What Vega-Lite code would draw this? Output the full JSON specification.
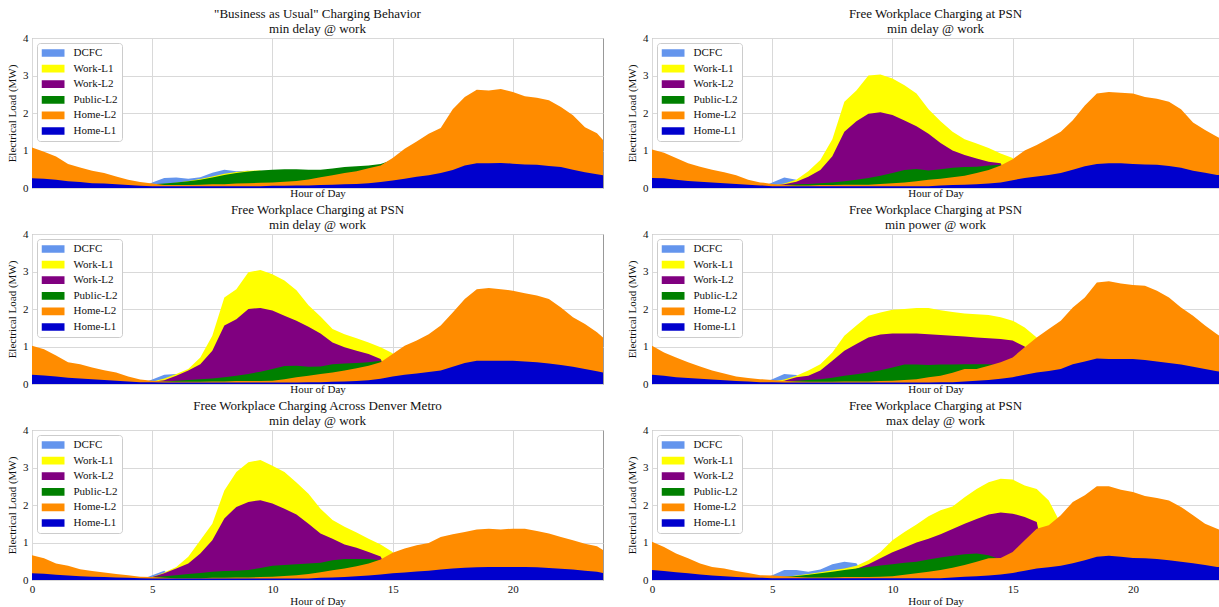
{
"$schema": "https://vega.github.io/schema/vega-lite/v6.json",
"background": "white",
"padding": {"left": 6, "top": 7, "right": 0, "bottom": 0},
"config": {
 "font": "Liberation Serif",
 "view": {"stroke": "#999999", "strokeWidth": 1},
 "title": {"font": "Liberation Serif", "fontSize": 13, "fontWeight": "normal", "color": "#111111", "lineHeight": 15, "offset": -4, "anchor": "middle"},
 "axis": {"labelFont": "Liberation Serif", "labelFontSize": 11, "labelColor": "#111111", "titleFont": "Liberation Serif", "titleFontSize": 11, "titleFontWeight": "normal", "titleColor": "#111111", "ticks": false, "domain": false, "gridColor": "#d9d9d9", "gridWidth": 1, "labelFlush": false, "labelOverlap": false, "labelPadding": 4},
 "legend": {"orient": "top-left", "offset": 5, "padding": 4.5, "fillColor": "white", "strokeColor": "#cccccc", "cornerRadius": 3, "symbolType": "M-1,-0.335L1,-0.335L1,0.335L-1,0.335Z", "symbolSize": 529, "symbolStrokeWidth": 0, "symbolOpacity": 1, "clipHeight": 11, "rowPadding": 3.6, "labelOffset": 9, "labelFont": "Liberation Serif", "labelFontSize": 11, "labelColor": "#111111", "labelLimit": 200}
},
"datasets": {"load": [
{"panel":1,"hour":0,"DCFC":0,"Work-L1":0,"Work-L2":0,"Public-L2":0,"Home-L2":1.08,"Home-L1":0.26},
{"panel":1,"hour":0.5,"DCFC":0,"Work-L1":0,"Work-L2":0,"Public-L2":0,"Home-L2":0.97,"Home-L1":0.25},
{"panel":1,"hour":1,"DCFC":0,"Work-L1":0,"Work-L2":0,"Public-L2":0,"Home-L2":0.84,"Home-L1":0.22},
{"panel":1,"hour":1.5,"DCFC":0,"Work-L1":0,"Work-L2":0,"Public-L2":0,"Home-L2":0.64,"Home-L1":0.18},
{"panel":1,"hour":2,"DCFC":0,"Work-L1":0,"Work-L2":0,"Public-L2":0,"Home-L2":0.55,"Home-L1":0.16},
{"panel":1,"hour":2.5,"DCFC":0,"Work-L1":0,"Work-L2":0,"Public-L2":0,"Home-L2":0.46,"Home-L1":0.13},
{"panel":1,"hour":3,"DCFC":0,"Work-L1":0,"Work-L2":0,"Public-L2":0,"Home-L2":0.40,"Home-L1":0.12},
{"panel":1,"hour":3.5,"DCFC":0,"Work-L1":0,"Work-L2":0,"Public-L2":0,"Home-L2":0.31,"Home-L1":0.10},
{"panel":1,"hour":4,"DCFC":0,"Work-L1":0,"Work-L2":0,"Public-L2":0,"Home-L2":0.22,"Home-L1":0.08},
{"panel":1,"hour":4.5,"DCFC":0,"Work-L1":0,"Work-L2":0,"Public-L2":0,"Home-L2":0.16,"Home-L1":0.06},
{"panel":1,"hour":5,"DCFC":0.15,"Work-L1":0.1,"Work-L2":0,"Public-L2":0.1,"Home-L2":0.12,"Home-L1":0.05},
{"panel":1,"hour":5.5,"DCFC":0.27,"Work-L1":0.11,"Work-L2":0,"Public-L2":0.12,"Home-L2":0.08,"Home-L1":0.05},
{"panel":1,"hour":6,"DCFC":0.28,"Work-L1":0.14,"Work-L2":0,"Public-L2":0.15,"Home-L2":0.08,"Home-L1":0.05},
{"panel":1,"hour":6.5,"DCFC":0.25,"Work-L1":0.19,"Work-L2":0,"Public-L2":0.18,"Home-L2":0.08,"Home-L1":0.05},
{"panel":1,"hour":7,"DCFC":0.29,"Work-L1":0.24,"Work-L2":0,"Public-L2":0.22,"Home-L2":0.09,"Home-L1":0.05},
{"panel":1,"hour":7.5,"DCFC":0.41,"Work-L1":0.31,"Work-L2":0,"Public-L2":0.28,"Home-L2":0.1,"Home-L1":0.05},
{"panel":1,"hour":8,"DCFC":0.49,"Work-L1":0.38,"Work-L2":0,"Public-L2":0.35,"Home-L2":0.1,"Home-L1":0.05},
{"panel":1,"hour":8.5,"DCFC":0.45,"Work-L1":0.43,"Work-L2":0,"Public-L2":0.4,"Home-L2":0.12,"Home-L1":0.05},
{"panel":1,"hour":9,"DCFC":0.46,"Work-L1":0.46,"Work-L2":0,"Public-L2":0.44,"Home-L2":0.13,"Home-L1":0.05},
{"panel":1,"hour":9.5,"DCFC":0,"Work-L1":0.47,"Work-L2":0,"Public-L2":0.47,"Home-L2":0.14,"Home-L1":0.05},
{"panel":1,"hour":10,"DCFC":0,"Work-L1":0,"Work-L2":0,"Public-L2":0.49,"Home-L2":0.15,"Home-L1":0.06},
{"panel":1,"hour":10.5,"DCFC":0,"Work-L1":0,"Work-L2":0,"Public-L2":0.5,"Home-L2":0.17,"Home-L1":0.06},
{"panel":1,"hour":11,"DCFC":0,"Work-L1":0,"Work-L2":0,"Public-L2":0.5,"Home-L2":0.19,"Home-L1":0.07},
{"panel":1,"hour":11.5,"DCFC":0,"Work-L1":0,"Work-L2":0,"Public-L2":0.49,"Home-L2":0.23,"Home-L1":0.07},
{"panel":1,"hour":12,"DCFC":0,"Work-L1":0,"Work-L2":0,"Public-L2":0.49,"Home-L2":0.29,"Home-L1":0.08},
{"panel":1,"hour":12.5,"DCFC":0,"Work-L1":0,"Work-L2":0,"Public-L2":0.52,"Home-L2":0.34,"Home-L1":0.09},
{"panel":1,"hour":13,"DCFC":0,"Work-L1":0,"Work-L2":0,"Public-L2":0.56,"Home-L2":0.4,"Home-L1":0.1},
{"panel":1,"hour":13.5,"DCFC":0,"Work-L1":0,"Work-L2":0,"Public-L2":0.58,"Home-L2":0.45,"Home-L1":0.11},
{"panel":1,"hour":14,"DCFC":0,"Work-L1":0,"Work-L2":0,"Public-L2":0.6,"Home-L2":0.53,"Home-L1":0.13},
{"panel":1,"hour":14.5,"DCFC":0,"Work-L1":0,"Work-L2":0,"Public-L2":0.64,"Home-L2":0.6,"Home-L1":0.16},
{"panel":1,"hour":15,"DCFC":0,"Work-L1":0,"Work-L2":0,"Public-L2":0.75,"Home-L2":0.8,"Home-L1":0.2},
{"panel":1,"hour":15.5,"DCFC":0,"Work-L1":0,"Work-L2":0,"Public-L2":0,"Home-L2":1.05,"Home-L1":0.25},
{"panel":1,"hour":16,"DCFC":0,"Work-L1":0,"Work-L2":0,"Public-L2":0,"Home-L2":1.24,"Home-L1":0.3},
{"panel":1,"hour":16.5,"DCFC":0,"Work-L1":0,"Work-L2":0,"Public-L2":0,"Home-L2":1.45,"Home-L1":0.34},
{"panel":1,"hour":17,"DCFC":0,"Work-L1":0,"Work-L2":0,"Public-L2":0,"Home-L2":1.6,"Home-L1":0.4},
{"panel":1,"hour":17.5,"DCFC":0,"Work-L1":0,"Work-L2":0,"Public-L2":0,"Home-L2":2.1,"Home-L1":0.48},
{"panel":1,"hour":18,"DCFC":0,"Work-L1":0,"Work-L2":0,"Public-L2":0,"Home-L2":2.43,"Home-L1":0.6},
{"panel":1,"hour":18.5,"DCFC":0,"Work-L1":0,"Work-L2":0,"Public-L2":0,"Home-L2":2.62,"Home-L1":0.66},
{"panel":1,"hour":19,"DCFC":0,"Work-L1":0,"Work-L2":0,"Public-L2":0,"Home-L2":2.6,"Home-L1":0.66},
{"panel":1,"hour":19.5,"DCFC":0,"Work-L1":0,"Work-L2":0,"Public-L2":0,"Home-L2":2.64,"Home-L1":0.67},
{"panel":1,"hour":20,"DCFC":0,"Work-L1":0,"Work-L2":0,"Public-L2":0,"Home-L2":2.56,"Home-L1":0.65},
{"panel":1,"hour":20.5,"DCFC":0,"Work-L1":0,"Work-L2":0,"Public-L2":0,"Home-L2":2.45,"Home-L1":0.63},
{"panel":1,"hour":21,"DCFC":0,"Work-L1":0,"Work-L2":0,"Public-L2":0,"Home-L2":2.41,"Home-L1":0.62},
{"panel":1,"hour":21.5,"DCFC":0,"Work-L1":0,"Work-L2":0,"Public-L2":0,"Home-L2":2.34,"Home-L1":0.59},
{"panel":1,"hour":22,"DCFC":0,"Work-L1":0,"Work-L2":0,"Public-L2":0,"Home-L2":2.16,"Home-L1":0.56},
{"panel":1,"hour":22.5,"DCFC":0,"Work-L1":0,"Work-L2":0,"Public-L2":0,"Home-L2":1.94,"Home-L1":0.49},
{"panel":1,"hour":23,"DCFC":0,"Work-L1":0,"Work-L2":0,"Public-L2":0,"Home-L2":1.62,"Home-L1":0.42},
{"panel":1,"hour":23.5,"DCFC":0,"Work-L1":0,"Work-L2":0,"Public-L2":0,"Home-L2":1.46,"Home-L1":0.37},
{"panel":1,"hour":23.75,"DCFC":0,"Work-L1":0,"Work-L2":0,"Public-L2":0,"Home-L2":1.28,"Home-L1":0.34},
{"panel":2,"hour":0,"DCFC":0,"Work-L1":0,"Work-L2":0,"Public-L2":0,"Home-L2":1.03,"Home-L1":0.27},
{"panel":2,"hour":0.5,"DCFC":0,"Work-L1":0,"Work-L2":0,"Public-L2":0,"Home-L2":0.94,"Home-L1":0.26},
{"panel":2,"hour":1,"DCFC":0,"Work-L1":0,"Work-L2":0,"Public-L2":0,"Home-L2":0.8,"Home-L1":0.22},
{"panel":2,"hour":1.5,"DCFC":0,"Work-L1":0,"Work-L2":0,"Public-L2":0,"Home-L2":0.66,"Home-L1":0.19},
{"panel":2,"hour":2,"DCFC":0,"Work-L1":0,"Work-L2":0,"Public-L2":0,"Home-L2":0.57,"Home-L1":0.17},
{"panel":2,"hour":2.5,"DCFC":0,"Work-L1":0,"Work-L2":0,"Public-L2":0,"Home-L2":0.49,"Home-L1":0.15},
{"panel":2,"hour":3,"DCFC":0,"Work-L1":0,"Work-L2":0,"Public-L2":0,"Home-L2":0.42,"Home-L1":0.13},
{"panel":2,"hour":3.5,"DCFC":0,"Work-L1":0,"Work-L2":0,"Public-L2":0,"Home-L2":0.34,"Home-L1":0.11},
{"panel":2,"hour":4,"DCFC":0,"Work-L1":0,"Work-L2":0,"Public-L2":0,"Home-L2":0.22,"Home-L1":0.09},
{"panel":2,"hour":4.5,"DCFC":0,"Work-L1":0,"Work-L2":0,"Public-L2":0,"Home-L2":0.15,"Home-L1":0.07},
{"panel":2,"hour":5,"DCFC":0.15,"Work-L1":0.07,"Work-L2":0.07,"Public-L2":0.06,"Home-L2":0.11,"Home-L1":0.05},
{"panel":2,"hour":5.5,"DCFC":0.28,"Work-L1":0.12,"Work-L2":0.1,"Public-L2":0.08,"Home-L2":0.08,"Home-L1":0.05},
{"panel":2,"hour":6,"DCFC":0.22,"Work-L1":0.22,"Work-L2":0.17,"Public-L2":0.1,"Home-L2":0.07,"Home-L1":0.05},
{"panel":2,"hour":6.5,"DCFC":0,"Work-L1":0.45,"Work-L2":0.3,"Public-L2":0.11,"Home-L2":0.07,"Home-L1":0.05},
{"panel":2,"hour":7,"DCFC":0,"Work-L1":0.75,"Work-L2":0.48,"Public-L2":0.13,"Home-L2":0.08,"Home-L1":0.05},
{"panel":2,"hour":7.5,"DCFC":0,"Work-L1":1.3,"Work-L2":0.85,"Public-L2":0.15,"Home-L2":0.08,"Home-L1":0.05},
{"panel":2,"hour":8,"DCFC":0,"Work-L1":2.3,"Work-L2":1.5,"Public-L2":0.18,"Home-L2":0.09,"Home-L1":0.05},
{"panel":2,"hour":8.5,"DCFC":0,"Work-L1":2.6,"Work-L2":1.78,"Public-L2":0.22,"Home-L2":0.09,"Home-L1":0.05},
{"panel":2,"hour":9,"DCFC":0,"Work-L1":3.0,"Work-L2":1.98,"Public-L2":0.27,"Home-L2":0.09,"Home-L1":0.05},
{"panel":2,"hour":9.5,"DCFC":0,"Work-L1":3.03,"Work-L2":2.02,"Public-L2":0.33,"Home-L2":0.11,"Home-L1":0.05},
{"panel":2,"hour":10,"DCFC":0,"Work-L1":2.92,"Work-L2":1.95,"Public-L2":0.4,"Home-L2":0.13,"Home-L1":0.05},
{"panel":2,"hour":10.5,"DCFC":0,"Work-L1":2.74,"Work-L2":1.8,"Public-L2":0.48,"Home-L2":0.15,"Home-L1":0.05},
{"panel":2,"hour":11,"DCFC":0,"Work-L1":2.52,"Work-L2":1.65,"Public-L2":0.51,"Home-L2":0.18,"Home-L1":0.05},
{"panel":2,"hour":11.5,"DCFC":0,"Work-L1":2.1,"Work-L2":1.45,"Public-L2":0.47,"Home-L2":0.22,"Home-L1":0.05},
{"panel":2,"hour":12,"DCFC":0,"Work-L1":1.78,"Work-L2":1.2,"Public-L2":0.5,"Home-L2":0.25,"Home-L1":0.07},
{"panel":2,"hour":12.5,"DCFC":0,"Work-L1":1.5,"Work-L2":1.0,"Public-L2":0.54,"Home-L2":0.29,"Home-L1":0.08},
{"panel":2,"hour":13,"DCFC":0,"Work-L1":1.3,"Work-L2":0.88,"Public-L2":0.56,"Home-L2":0.33,"Home-L1":0.09},
{"panel":2,"hour":13.5,"DCFC":0,"Work-L1":1.19,"Work-L2":0.79,"Public-L2":0.57,"Home-L2":0.4,"Home-L1":0.1},
{"panel":2,"hour":14,"DCFC":0,"Work-L1":1.07,"Work-L2":0.7,"Public-L2":0.6,"Home-L2":0.48,"Home-L1":0.12},
{"panel":2,"hour":14.5,"DCFC":0,"Work-L1":0.92,"Work-L2":0.66,"Public-L2":0.62,"Home-L2":0.6,"Home-L1":0.15},
{"panel":2,"hour":15,"DCFC":0,"Work-L1":0.8,"Work-L2":0,"Public-L2":0,"Home-L2":0.77,"Home-L1":0.21},
{"panel":2,"hour":15.5,"DCFC":0,"Work-L1":0,"Work-L2":0,"Public-L2":0,"Home-L2":1.0,"Home-L1":0.27},
{"panel":2,"hour":16,"DCFC":0,"Work-L1":0,"Work-L2":0,"Public-L2":0,"Home-L2":1.15,"Home-L1":0.31},
{"panel":2,"hour":16.5,"DCFC":0,"Work-L1":0,"Work-L2":0,"Public-L2":0,"Home-L2":1.32,"Home-L1":0.35},
{"panel":2,"hour":17,"DCFC":0,"Work-L1":0,"Work-L2":0,"Public-L2":0,"Home-L2":1.5,"Home-L1":0.4},
{"panel":2,"hour":17.5,"DCFC":0,"Work-L1":0,"Work-L2":0,"Public-L2":0,"Home-L2":1.81,"Home-L1":0.49},
{"panel":2,"hour":18,"DCFC":0,"Work-L1":0,"Work-L2":0,"Public-L2":0,"Home-L2":2.2,"Home-L1":0.58},
{"panel":2,"hour":18.5,"DCFC":0,"Work-L1":0,"Work-L2":0,"Public-L2":0,"Home-L2":2.52,"Home-L1":0.64},
{"panel":2,"hour":19,"DCFC":0,"Work-L1":0,"Work-L2":0,"Public-L2":0,"Home-L2":2.56,"Home-L1":0.66},
{"panel":2,"hour":19.5,"DCFC":0,"Work-L1":0,"Work-L2":0,"Public-L2":0,"Home-L2":2.54,"Home-L1":0.66},
{"panel":2,"hour":20,"DCFC":0,"Work-L1":0,"Work-L2":0,"Public-L2":0,"Home-L2":2.52,"Home-L1":0.64},
{"panel":2,"hour":20.5,"DCFC":0,"Work-L1":0,"Work-L2":0,"Public-L2":0,"Home-L2":2.43,"Home-L1":0.63},
{"panel":2,"hour":21,"DCFC":0,"Work-L1":0,"Work-L2":0,"Public-L2":0,"Home-L2":2.38,"Home-L1":0.62},
{"panel":2,"hour":21.5,"DCFC":0,"Work-L1":0,"Work-L2":0,"Public-L2":0,"Home-L2":2.3,"Home-L1":0.59},
{"panel":2,"hour":22,"DCFC":0,"Work-L1":0,"Work-L2":0,"Public-L2":0,"Home-L2":2.1,"Home-L1":0.54},
{"panel":2,"hour":22.5,"DCFC":0,"Work-L1":0,"Work-L2":0,"Public-L2":0,"Home-L2":1.75,"Home-L1":0.46},
{"panel":2,"hour":23,"DCFC":0,"Work-L1":0,"Work-L2":0,"Public-L2":0,"Home-L2":1.55,"Home-L1":0.41},
{"panel":2,"hour":23.5,"DCFC":0,"Work-L1":0,"Work-L2":0,"Public-L2":0,"Home-L2":1.37,"Home-L1":0.35},
{"panel":2,"hour":23.75,"DCFC":0,"Work-L1":0,"Work-L2":0,"Public-L2":0,"Home-L2":1.28,"Home-L1":0.33},
{"panel":3,"hour":0,"DCFC":0,"Work-L1":0,"Work-L2":0,"Public-L2":0,"Home-L2":1.02,"Home-L1":0.25},
{"panel":3,"hour":0.5,"DCFC":0,"Work-L1":0,"Work-L2":0,"Public-L2":0,"Home-L2":0.93,"Home-L1":0.23},
{"panel":3,"hour":1,"DCFC":0,"Work-L1":0,"Work-L2":0,"Public-L2":0,"Home-L2":0.76,"Home-L1":0.2},
{"panel":3,"hour":1.5,"DCFC":0,"Work-L1":0,"Work-L2":0,"Public-L2":0,"Home-L2":0.58,"Home-L1":0.17},
{"panel":3,"hour":2,"DCFC":0,"Work-L1":0,"Work-L2":0,"Public-L2":0,"Home-L2":0.53,"Home-L1":0.15},
{"panel":3,"hour":2.5,"DCFC":0,"Work-L1":0,"Work-L2":0,"Public-L2":0,"Home-L2":0.44,"Home-L1":0.13},
{"panel":3,"hour":3,"DCFC":0,"Work-L1":0,"Work-L2":0,"Public-L2":0,"Home-L2":0.37,"Home-L1":0.11},
{"panel":3,"hour":3.5,"DCFC":0,"Work-L1":0,"Work-L2":0,"Public-L2":0,"Home-L2":0.31,"Home-L1":0.09},
{"panel":3,"hour":4,"DCFC":0,"Work-L1":0,"Work-L2":0,"Public-L2":0,"Home-L2":0.2,"Home-L1":0.07},
{"panel":3,"hour":4.5,"DCFC":0,"Work-L1":0,"Work-L2":0,"Public-L2":0,"Home-L2":0.12,"Home-L1":0.05},
{"panel":3,"hour":5,"DCFC":0.12,"Work-L1":0.06,"Work-L2":0.06,"Public-L2":0.05,"Home-L2":0.09,"Home-L1":0.05},
{"panel":3,"hour":5.5,"DCFC":0.25,"Work-L1":0.15,"Work-L2":0.1,"Public-L2":0.07,"Home-L2":0.07,"Home-L1":0.04},
{"panel":3,"hour":6,"DCFC":0.27,"Work-L1":0.27,"Work-L2":0.22,"Public-L2":0.09,"Home-L2":0.06,"Home-L1":0.04},
{"panel":3,"hour":6.5,"DCFC":0,"Work-L1":0.4,"Work-L2":0.36,"Public-L2":0.11,"Home-L2":0.06,"Home-L1":0.04},
{"panel":3,"hour":7,"DCFC":0,"Work-L1":0.71,"Work-L2":0.53,"Public-L2":0.13,"Home-L2":0.06,"Home-L1":0.04},
{"panel":3,"hour":7.5,"DCFC":0,"Work-L1":1.29,"Work-L2":0.89,"Public-L2":0.15,"Home-L2":0.07,"Home-L1":0.04},
{"panel":3,"hour":8,"DCFC":0,"Work-L1":2.31,"Work-L2":1.56,"Public-L2":0.18,"Home-L2":0.07,"Home-L1":0.04},
{"panel":3,"hour":8.5,"DCFC":0,"Work-L1":2.53,"Work-L2":1.73,"Public-L2":0.22,"Home-L2":0.08,"Home-L1":0.04},
{"panel":3,"hour":9,"DCFC":0,"Work-L1":2.98,"Work-L2":2.0,"Public-L2":0.27,"Home-L2":0.08,"Home-L1":0.04},
{"panel":3,"hour":9.5,"DCFC":0,"Work-L1":3.04,"Work-L2":2.03,"Public-L2":0.33,"Home-L2":0.08,"Home-L1":0.04},
{"panel":3,"hour":10,"DCFC":0,"Work-L1":2.93,"Work-L2":1.96,"Public-L2":0.4,"Home-L2":0.09,"Home-L1":0.04},
{"panel":3,"hour":10.5,"DCFC":0,"Work-L1":2.76,"Work-L2":1.82,"Public-L2":0.48,"Home-L2":0.13,"Home-L1":0.04},
{"panel":3,"hour":11,"DCFC":0,"Work-L1":2.5,"Work-L2":1.69,"Public-L2":0.49,"Home-L2":0.18,"Home-L1":0.04},
{"panel":3,"hour":11.5,"DCFC":0,"Work-L1":2.1,"Work-L2":1.53,"Public-L2":0.46,"Home-L2":0.22,"Home-L1":0.05},
{"panel":3,"hour":12,"DCFC":0,"Work-L1":1.8,"Work-L2":1.35,"Public-L2":0.47,"Home-L2":0.27,"Home-L1":0.05},
{"panel":3,"hour":12.5,"DCFC":0,"Work-L1":1.47,"Work-L2":1.11,"Public-L2":0.53,"Home-L2":0.31,"Home-L1":0.06},
{"panel":3,"hour":13,"DCFC":0,"Work-L1":1.33,"Work-L2":0.98,"Public-L2":0.55,"Home-L2":0.36,"Home-L1":0.07},
{"panel":3,"hour":13.5,"DCFC":0,"Work-L1":1.22,"Work-L2":0.89,"Public-L2":0.56,"Home-L2":0.42,"Home-L1":0.08},
{"panel":3,"hour":14,"DCFC":0,"Work-L1":1.11,"Work-L2":0.8,"Public-L2":0.58,"Home-L2":0.49,"Home-L1":0.1},
{"panel":3,"hour":14.5,"DCFC":0,"Work-L1":0.98,"Work-L2":0.67,"Public-L2":0.62,"Home-L2":0.58,"Home-L1":0.14},
{"panel":3,"hour":15,"DCFC":0,"Work-L1":0.82,"Work-L2":0,"Public-L2":0,"Home-L2":0.8,"Home-L1":0.2},
{"panel":3,"hour":15.5,"DCFC":0,"Work-L1":0,"Work-L2":0,"Public-L2":0,"Home-L2":1.02,"Home-L1":0.25},
{"panel":3,"hour":16,"DCFC":0,"Work-L1":0,"Work-L2":0,"Public-L2":0,"Home-L2":1.16,"Home-L1":0.28},
{"panel":3,"hour":16.5,"DCFC":0,"Work-L1":0,"Work-L2":0,"Public-L2":0,"Home-L2":1.33,"Home-L1":0.32},
{"panel":3,"hour":17,"DCFC":0,"Work-L1":0,"Work-L2":0,"Public-L2":0,"Home-L2":1.56,"Home-L1":0.36},
{"panel":3,"hour":17.5,"DCFC":0,"Work-L1":0,"Work-L2":0,"Public-L2":0,"Home-L2":1.91,"Home-L1":0.46},
{"panel":3,"hour":18,"DCFC":0,"Work-L1":0,"Work-L2":0,"Public-L2":0,"Home-L2":2.27,"Home-L1":0.56},
{"panel":3,"hour":18.5,"DCFC":0,"Work-L1":0,"Work-L2":0,"Public-L2":0,"Home-L2":2.53,"Home-L1":0.62},
{"panel":3,"hour":19,"DCFC":0,"Work-L1":0,"Work-L2":0,"Public-L2":0,"Home-L2":2.56,"Home-L1":0.62},
{"panel":3,"hour":19.5,"DCFC":0,"Work-L1":0,"Work-L2":0,"Public-L2":0,"Home-L2":2.53,"Home-L1":0.62},
{"panel":3,"hour":20,"DCFC":0,"Work-L1":0,"Work-L2":0,"Public-L2":0,"Home-L2":2.49,"Home-L1":0.62},
{"panel":3,"hour":20.5,"DCFC":0,"Work-L1":0,"Work-L2":0,"Public-L2":0,"Home-L2":2.42,"Home-L1":0.6},
{"panel":3,"hour":21,"DCFC":0,"Work-L1":0,"Work-L2":0,"Public-L2":0,"Home-L2":2.36,"Home-L1":0.58},
{"panel":3,"hour":21.5,"DCFC":0,"Work-L1":0,"Work-L2":0,"Public-L2":0,"Home-L2":2.27,"Home-L1":0.55},
{"panel":3,"hour":22,"DCFC":0,"Work-L1":0,"Work-L2":0,"Public-L2":0,"Home-L2":2.04,"Home-L1":0.51},
{"panel":3,"hour":22.5,"DCFC":0,"Work-L1":0,"Work-L2":0,"Public-L2":0,"Home-L2":1.78,"Home-L1":0.46},
{"panel":3,"hour":23,"DCFC":0,"Work-L1":0,"Work-L2":0,"Public-L2":0,"Home-L2":1.6,"Home-L1":0.4},
{"panel":3,"hour":23.5,"DCFC":0,"Work-L1":0,"Work-L2":0,"Public-L2":0,"Home-L2":1.38,"Home-L1":0.34},
{"panel":3,"hour":23.75,"DCFC":0,"Work-L1":0,"Work-L2":0,"Public-L2":0,"Home-L2":1.24,"Home-L1":0.31},
{"panel":4,"hour":0,"DCFC":0,"Work-L1":0,"Work-L2":0,"Public-L2":0,"Home-L2":1.02,"Home-L1":0.25},
{"panel":4,"hour":0.5,"DCFC":0,"Work-L1":0,"Work-L2":0,"Public-L2":0,"Home-L2":0.84,"Home-L1":0.22},
{"panel":4,"hour":1,"DCFC":0,"Work-L1":0,"Work-L2":0,"Public-L2":0,"Home-L2":0.71,"Home-L1":0.18},
{"panel":4,"hour":1.5,"DCFC":0,"Work-L1":0,"Work-L2":0,"Public-L2":0,"Home-L2":0.58,"Home-L1":0.16},
{"panel":4,"hour":2,"DCFC":0,"Work-L1":0,"Work-L2":0,"Public-L2":0,"Home-L2":0.47,"Home-L1":0.14},
{"panel":4,"hour":2.5,"DCFC":0,"Work-L1":0,"Work-L2":0,"Public-L2":0,"Home-L2":0.36,"Home-L1":0.12},
{"panel":4,"hour":3,"DCFC":0,"Work-L1":0,"Work-L2":0,"Public-L2":0,"Home-L2":0.28,"Home-L1":0.1},
{"panel":4,"hour":3.5,"DCFC":0,"Work-L1":0,"Work-L2":0,"Public-L2":0,"Home-L2":0.2,"Home-L1":0.08},
{"panel":4,"hour":4,"DCFC":0,"Work-L1":0,"Work-L2":0,"Public-L2":0,"Home-L2":0.16,"Home-L1":0.07},
{"panel":4,"hour":4.5,"DCFC":0,"Work-L1":0,"Work-L2":0,"Public-L2":0,"Home-L2":0.13,"Home-L1":0.05},
{"panel":4,"hour":5,"DCFC":0.13,"Work-L1":0.07,"Work-L2":0.05,"Public-L2":0.05,"Home-L2":0.11,"Home-L1":0.05},
{"panel":4,"hour":5.5,"DCFC":0.27,"Work-L1":0.12,"Work-L2":0.09,"Public-L2":0.07,"Home-L2":0.08,"Home-L1":0.04},
{"panel":4,"hour":6,"DCFC":0.24,"Work-L1":0.22,"Work-L2":0.18,"Public-L2":0.09,"Home-L2":0.07,"Home-L1":0.04},
{"panel":4,"hour":6.5,"DCFC":0,"Work-L1":0.36,"Work-L2":0.22,"Public-L2":0.11,"Home-L2":0.06,"Home-L1":0.04},
{"panel":4,"hour":7,"DCFC":0,"Work-L1":0.53,"Work-L2":0.36,"Public-L2":0.13,"Home-L2":0.06,"Home-L1":0.04},
{"panel":4,"hour":7.5,"DCFC":0,"Work-L1":0.84,"Work-L2":0.62,"Public-L2":0.17,"Home-L2":0.06,"Home-L1":0.04},
{"panel":4,"hour":8,"DCFC":0,"Work-L1":1.29,"Work-L2":0.89,"Public-L2":0.22,"Home-L2":0.07,"Home-L1":0.04},
{"panel":4,"hour":8.5,"DCFC":0,"Work-L1":1.56,"Work-L2":1.07,"Public-L2":0.26,"Home-L2":0.07,"Home-L1":0.04},
{"panel":4,"hour":9,"DCFC":0,"Work-L1":1.82,"Work-L2":1.24,"Public-L2":0.31,"Home-L2":0.07,"Home-L1":0.04},
{"panel":4,"hour":9.5,"DCFC":0,"Work-L1":1.91,"Work-L2":1.32,"Public-L2":0.37,"Home-L2":0.08,"Home-L1":0.04},
{"panel":4,"hour":10,"DCFC":0,"Work-L1":1.98,"Work-L2":1.35,"Public-L2":0.44,"Home-L2":0.09,"Home-L1":0.04},
{"panel":4,"hour":10.5,"DCFC":0,"Work-L1":2.0,"Work-L2":1.35,"Public-L2":0.52,"Home-L2":0.11,"Home-L1":0.04},
{"panel":4,"hour":11,"DCFC":0,"Work-L1":2.03,"Work-L2":1.35,"Public-L2":0.52,"Home-L2":0.13,"Home-L1":0.04},
{"panel":4,"hour":11.5,"DCFC":0,"Work-L1":2.03,"Work-L2":1.33,"Public-L2":0.51,"Home-L2":0.18,"Home-L1":0.04},
{"panel":4,"hour":12,"DCFC":0,"Work-L1":1.97,"Work-L2":1.31,"Public-L2":0.52,"Home-L2":0.22,"Home-L1":0.05},
{"panel":4,"hour":12.5,"DCFC":0,"Work-L1":1.92,"Work-L2":1.29,"Public-L2":0.52,"Home-L2":0.3,"Home-L1":0.05},
{"panel":4,"hour":13,"DCFC":0,"Work-L1":1.88,"Work-L2":1.27,"Public-L2":0.53,"Home-L2":0.4,"Home-L1":0.07},
{"panel":4,"hour":13.5,"DCFC":0,"Work-L1":1.86,"Work-L2":1.24,"Public-L2":0.53,"Home-L2":0.4,"Home-L1":0.09},
{"panel":4,"hour":14,"DCFC":0,"Work-L1":1.84,"Work-L2":1.22,"Public-L2":0.53,"Home-L2":0.49,"Home-L1":0.11},
{"panel":4,"hour":14.5,"DCFC":0,"Work-L1":1.78,"Work-L2":1.2,"Public-L2":0.5,"Home-L2":0.58,"Home-L1":0.14},
{"panel":4,"hour":15,"DCFC":0,"Work-L1":1.69,"Work-L2":1.16,"Public-L2":0,"Home-L2":0.71,"Home-L1":0.18},
{"panel":4,"hour":15.5,"DCFC":0,"Work-L1":1.51,"Work-L2":1.0,"Public-L2":0,"Home-L2":0.98,"Home-L1":0.25},
{"panel":4,"hour":16,"DCFC":0,"Work-L1":1.24,"Work-L2":0,"Public-L2":0,"Home-L2":1.24,"Home-L1":0.31},
{"panel":4,"hour":16.5,"DCFC":0,"Work-L1":0,"Work-L2":0,"Public-L2":0,"Home-L2":1.47,"Home-L1":0.35},
{"panel":4,"hour":17,"DCFC":0,"Work-L1":0,"Work-L2":0,"Public-L2":0,"Home-L2":1.69,"Home-L1":0.4},
{"panel":4,"hour":17.5,"DCFC":0,"Work-L1":0,"Work-L2":0,"Public-L2":0,"Home-L2":2.04,"Home-L1":0.53},
{"panel":4,"hour":18,"DCFC":0,"Work-L1":0,"Work-L2":0,"Public-L2":0,"Home-L2":2.31,"Home-L1":0.6},
{"panel":4,"hour":18.5,"DCFC":0,"Work-L1":0,"Work-L2":0,"Public-L2":0,"Home-L2":2.71,"Home-L1":0.68},
{"panel":4,"hour":19,"DCFC":0,"Work-L1":0,"Work-L2":0,"Public-L2":0,"Home-L2":2.74,"Home-L1":0.67},
{"panel":4,"hour":19.5,"DCFC":0,"Work-L1":0,"Work-L2":0,"Public-L2":0,"Home-L2":2.68,"Home-L1":0.67},
{"panel":4,"hour":20,"DCFC":0,"Work-L1":0,"Work-L2":0,"Public-L2":0,"Home-L2":2.64,"Home-L1":0.67},
{"panel":4,"hour":20.5,"DCFC":0,"Work-L1":0,"Work-L2":0,"Public-L2":0,"Home-L2":2.62,"Home-L1":0.64},
{"panel":4,"hour":21,"DCFC":0,"Work-L1":0,"Work-L2":0,"Public-L2":0,"Home-L2":2.49,"Home-L1":0.6},
{"panel":4,"hour":21.5,"DCFC":0,"Work-L1":0,"Work-L2":0,"Public-L2":0,"Home-L2":2.31,"Home-L1":0.56},
{"panel":4,"hour":22,"DCFC":0,"Work-L1":0,"Work-L2":0,"Public-L2":0,"Home-L2":2.04,"Home-L1":0.52},
{"panel":4,"hour":22.5,"DCFC":0,"Work-L1":0,"Work-L2":0,"Public-L2":0,"Home-L2":1.82,"Home-L1":0.46},
{"panel":4,"hour":23,"DCFC":0,"Work-L1":0,"Work-L2":0,"Public-L2":0,"Home-L2":1.56,"Home-L1":0.4},
{"panel":4,"hour":23.5,"DCFC":0,"Work-L1":0,"Work-L2":0,"Public-L2":0,"Home-L2":1.33,"Home-L1":0.34},
{"panel":4,"hour":23.75,"DCFC":0,"Work-L1":0,"Work-L2":0,"Public-L2":0,"Home-L2":1.22,"Home-L1":0.31},
{"panel":5,"hour":0,"DCFC":0,"Work-L1":0,"Work-L2":0,"Public-L2":0,"Home-L2":0.66,"Home-L1":0.18},
{"panel":5,"hour":0.5,"DCFC":0,"Work-L1":0,"Work-L2":0,"Public-L2":0,"Home-L2":0.58,"Home-L1":0.17},
{"panel":5,"hour":1,"DCFC":0,"Work-L1":0,"Work-L2":0,"Public-L2":0,"Home-L2":0.44,"Home-L1":0.14},
{"panel":5,"hour":1.5,"DCFC":0,"Work-L1":0,"Work-L2":0,"Public-L2":0,"Home-L2":0.38,"Home-L1":0.12},
{"panel":5,"hour":2,"DCFC":0,"Work-L1":0,"Work-L2":0,"Public-L2":0,"Home-L2":0.29,"Home-L1":0.1},
{"panel":5,"hour":2.5,"DCFC":0,"Work-L1":0,"Work-L2":0,"Public-L2":0,"Home-L2":0.24,"Home-L1":0.09},
{"panel":5,"hour":3,"DCFC":0,"Work-L1":0,"Work-L2":0,"Public-L2":0,"Home-L2":0.2,"Home-L1":0.08},
{"panel":5,"hour":3.5,"DCFC":0,"Work-L1":0,"Work-L2":0,"Public-L2":0,"Home-L2":0.16,"Home-L1":0.07},
{"panel":5,"hour":4,"DCFC":0,"Work-L1":0,"Work-L2":0,"Public-L2":0,"Home-L2":0.13,"Home-L1":0.06},
{"panel":5,"hour":4.5,"DCFC":0,"Work-L1":0,"Work-L2":0,"Public-L2":0.05,"Home-L2":0.09,"Home-L1":0.05},
{"panel":5,"hour":5,"DCFC":0.13,"Work-L1":0.08,"Work-L2":0.08,"Public-L2":0.08,"Home-L2":0.08,"Home-L1":0.04},
{"panel":5,"hour":5.5,"DCFC":0.25,"Work-L1":0.2,"Work-L2":0.18,"Public-L2":0.1,"Home-L2":0.06,"Home-L1":0.04},
{"panel":5,"hour":6,"DCFC":0,"Work-L1":0.35,"Work-L2":0.31,"Public-L2":0.13,"Home-L2":0.05,"Home-L1":0.04},
{"panel":5,"hour":6.5,"DCFC":0,"Work-L1":0.62,"Work-L2":0.44,"Public-L2":0.16,"Home-L2":0.05,"Home-L1":0.04},
{"panel":5,"hour":7,"DCFC":0,"Work-L1":1.06,"Work-L2":0.71,"Public-L2":0.19,"Home-L2":0.05,"Home-L1":0.04},
{"panel":5,"hour":7.5,"DCFC":0,"Work-L1":1.5,"Work-L2":1.06,"Public-L2":0.22,"Home-L2":0.06,"Home-L1":0.04},
{"panel":5,"hour":8,"DCFC":0,"Work-L1":2.39,"Work-L2":1.64,"Public-L2":0.24,"Home-L2":0.06,"Home-L1":0.04},
{"panel":5,"hour":8.5,"DCFC":0,"Work-L1":2.88,"Work-L2":1.95,"Public-L2":0.25,"Home-L2":0.07,"Home-L1":0.04},
{"panel":5,"hour":9,"DCFC":0,"Work-L1":3.14,"Work-L2":2.08,"Public-L2":0.27,"Home-L2":0.07,"Home-L1":0.04},
{"panel":5,"hour":9.5,"DCFC":0,"Work-L1":3.2,"Work-L2":2.13,"Public-L2":0.32,"Home-L2":0.08,"Home-L1":0.04},
{"panel":5,"hour":10,"DCFC":0,"Work-L1":3.05,"Work-L2":2.04,"Public-L2":0.38,"Home-L2":0.09,"Home-L1":0.04},
{"panel":5,"hour":10.5,"DCFC":0,"Work-L1":2.88,"Work-L2":1.9,"Public-L2":0.4,"Home-L2":0.11,"Home-L1":0.04},
{"panel":5,"hour":11,"DCFC":0,"Work-L1":2.6,"Work-L2":1.75,"Public-L2":0.42,"Home-L2":0.13,"Home-L1":0.04},
{"panel":5,"hour":11.5,"DCFC":0,"Work-L1":2.3,"Work-L2":1.5,"Public-L2":0.44,"Home-L2":0.16,"Home-L1":0.04},
{"panel":5,"hour":12,"DCFC":0,"Work-L1":1.9,"Work-L2":1.24,"Public-L2":0.46,"Home-L2":0.21,"Home-L1":0.06},
{"panel":5,"hour":12.5,"DCFC":0,"Work-L1":1.6,"Work-L2":1.1,"Public-L2":0.53,"Home-L2":0.26,"Home-L1":0.07},
{"panel":5,"hour":13,"DCFC":0,"Work-L1":1.42,"Work-L2":0.95,"Public-L2":0.56,"Home-L2":0.31,"Home-L1":0.08},
{"panel":5,"hour":13.5,"DCFC":0,"Work-L1":1.27,"Work-L2":0.86,"Public-L2":0.56,"Home-L2":0.37,"Home-L1":0.1},
{"panel":5,"hour":14,"DCFC":0,"Work-L1":1.1,"Work-L2":0.75,"Public-L2":0.56,"Home-L2":0.44,"Home-L1":0.12},
{"panel":5,"hour":14.5,"DCFC":0,"Work-L1":0.95,"Work-L2":0.63,"Public-L2":0.53,"Home-L2":0.55,"Home-L1":0.15},
{"panel":5,"hour":15,"DCFC":0,"Work-L1":0.75,"Work-L2":0,"Public-L2":0,"Home-L2":0.73,"Home-L1":0.18},
{"panel":5,"hour":15.5,"DCFC":0,"Work-L1":0,"Work-L2":0,"Public-L2":0,"Home-L2":0.84,"Home-L1":0.2},
{"panel":5,"hour":16,"DCFC":0,"Work-L1":0,"Work-L2":0,"Public-L2":0,"Home-L2":0.93,"Home-L1":0.23},
{"panel":5,"hour":16.5,"DCFC":0,"Work-L1":0,"Work-L2":0,"Public-L2":0,"Home-L2":0.99,"Home-L1":0.25},
{"panel":5,"hour":17,"DCFC":0,"Work-L1":0,"Work-L2":0,"Public-L2":0,"Home-L2":1.15,"Home-L1":0.28},
{"panel":5,"hour":17.5,"DCFC":0,"Work-L1":0,"Work-L2":0,"Public-L2":0,"Home-L2":1.22,"Home-L1":0.31},
{"panel":5,"hour":18,"DCFC":0,"Work-L1":0,"Work-L2":0,"Public-L2":0,"Home-L2":1.28,"Home-L1":0.33},
{"panel":5,"hour":18.5,"DCFC":0,"Work-L1":0,"Work-L2":0,"Public-L2":0,"Home-L2":1.35,"Home-L1":0.34},
{"panel":5,"hour":19,"DCFC":0,"Work-L1":0,"Work-L2":0,"Public-L2":0,"Home-L2":1.37,"Home-L1":0.35},
{"panel":5,"hour":19.5,"DCFC":0,"Work-L1":0,"Work-L2":0,"Public-L2":0,"Home-L2":1.35,"Home-L1":0.35},
{"panel":5,"hour":20,"DCFC":0,"Work-L1":0,"Work-L2":0,"Public-L2":0,"Home-L2":1.37,"Home-L1":0.35},
{"panel":5,"hour":20.5,"DCFC":0,"Work-L1":0,"Work-L2":0,"Public-L2":0,"Home-L2":1.37,"Home-L1":0.35},
{"panel":5,"hour":21,"DCFC":0,"Work-L1":0,"Work-L2":0,"Public-L2":0,"Home-L2":1.31,"Home-L1":0.34},
{"panel":5,"hour":21.5,"DCFC":0,"Work-L1":0,"Work-L2":0,"Public-L2":0,"Home-L2":1.24,"Home-L1":0.32},
{"panel":5,"hour":22,"DCFC":0,"Work-L1":0,"Work-L2":0,"Public-L2":0,"Home-L2":1.15,"Home-L1":0.3},
{"panel":5,"hour":22.5,"DCFC":0,"Work-L1":0,"Work-L2":0,"Public-L2":0,"Home-L2":1.06,"Home-L1":0.28},
{"panel":5,"hour":23,"DCFC":0,"Work-L1":0,"Work-L2":0,"Public-L2":0,"Home-L2":0.97,"Home-L1":0.25},
{"panel":5,"hour":23.5,"DCFC":0,"Work-L1":0,"Work-L2":0,"Public-L2":0,"Home-L2":0.9,"Home-L1":0.22},
{"panel":5,"hour":23.75,"DCFC":0,"Work-L1":0,"Work-L2":0,"Public-L2":0,"Home-L2":0.8,"Home-L1":0.19},
{"panel":6,"hour":0,"DCFC":0,"Work-L1":0,"Work-L2":0,"Public-L2":0,"Home-L2":1.02,"Home-L1":0.27},
{"panel":6,"hour":0.5,"DCFC":0,"Work-L1":0,"Work-L2":0,"Public-L2":0,"Home-L2":0.88,"Home-L1":0.24},
{"panel":6,"hour":1,"DCFC":0,"Work-L1":0,"Work-L2":0,"Public-L2":0,"Home-L2":0.71,"Home-L1":0.21},
{"panel":6,"hour":1.5,"DCFC":0,"Work-L1":0,"Work-L2":0,"Public-L2":0,"Home-L2":0.58,"Home-L1":0.18},
{"panel":6,"hour":2,"DCFC":0,"Work-L1":0,"Work-L2":0,"Public-L2":0,"Home-L2":0.44,"Home-L1":0.15},
{"panel":6,"hour":2.5,"DCFC":0,"Work-L1":0,"Work-L2":0,"Public-L2":0,"Home-L2":0.35,"Home-L1":0.12},
{"panel":6,"hour":3,"DCFC":0,"Work-L1":0,"Work-L2":0,"Public-L2":0,"Home-L2":0.31,"Home-L1":0.1},
{"panel":6,"hour":3.5,"DCFC":0,"Work-L1":0,"Work-L2":0,"Public-L2":0,"Home-L2":0.24,"Home-L1":0.08},
{"panel":6,"hour":4,"DCFC":0,"Work-L1":0,"Work-L2":0,"Public-L2":0,"Home-L2":0.19,"Home-L1":0.07},
{"panel":6,"hour":4.5,"DCFC":0,"Work-L1":0,"Work-L2":0,"Public-L2":0,"Home-L2":0.13,"Home-L1":0.06},
{"panel":6,"hour":5,"DCFC":0.13,"Work-L1":0,"Work-L2":0,"Public-L2":0.08,"Home-L2":0.12,"Home-L1":0.05},
{"panel":6,"hour":5.5,"DCFC":0.27,"Work-L1":0.08,"Work-L2":0,"Public-L2":0.09,"Home-L2":0.1,"Home-L1":0.05},
{"panel":6,"hour":6,"DCFC":0.27,"Work-L1":0.12,"Work-L2":0,"Public-L2":0.11,"Home-L2":0.08,"Home-L1":0.05},
{"panel":6,"hour":6.5,"DCFC":0.22,"Work-L1":0.16,"Work-L2":0,"Public-L2":0.14,"Home-L2":0.07,"Home-L1":0.05},
{"panel":6,"hour":7,"DCFC":0.28,"Work-L1":0.21,"Work-L2":0,"Public-L2":0.18,"Home-L2":0.07,"Home-L1":0.05},
{"panel":6,"hour":7.5,"DCFC":0.42,"Work-L1":0.26,"Work-L2":0,"Public-L2":0.22,"Home-L2":0.07,"Home-L1":0.05},
{"panel":6,"hour":8,"DCFC":0.49,"Work-L1":0.31,"Work-L2":0.2,"Public-L2":0.27,"Home-L2":0.08,"Home-L1":0.05},
{"panel":6,"hour":8.5,"DCFC":0.45,"Work-L1":0.38,"Work-L2":0.3,"Public-L2":0.31,"Home-L2":0.08,"Home-L1":0.05},
{"panel":6,"hour":9,"DCFC":0,"Work-L1":0.53,"Work-L2":0.42,"Public-L2":0.35,"Home-L2":0.08,"Home-L1":0.05},
{"panel":6,"hour":9.5,"DCFC":0,"Work-L1":0.75,"Work-L2":0.58,"Public-L2":0.39,"Home-L2":0.09,"Home-L1":0.05},
{"panel":6,"hour":10,"DCFC":0,"Work-L1":1.06,"Work-L2":0.74,"Public-L2":0.42,"Home-L2":0.1,"Home-L1":0.05},
{"panel":6,"hour":10.5,"DCFC":0,"Work-L1":1.28,"Work-L2":0.87,"Public-L2":0.46,"Home-L2":0.14,"Home-L1":0.05},
{"panel":6,"hour":11,"DCFC":0,"Work-L1":1.48,"Work-L2":1.0,"Public-L2":0.49,"Home-L2":0.18,"Home-L1":0.05},
{"panel":6,"hour":11.5,"DCFC":0,"Work-L1":1.7,"Work-L2":1.1,"Public-L2":0.55,"Home-L2":0.22,"Home-L1":0.05},
{"panel":6,"hour":12,"DCFC":0,"Work-L1":1.86,"Work-L2":1.22,"Public-L2":0.6,"Home-L2":0.27,"Home-L1":0.05},
{"panel":6,"hour":12.5,"DCFC":0,"Work-L1":1.96,"Work-L2":1.36,"Public-L2":0.65,"Home-L2":0.33,"Home-L1":0.07},
{"panel":6,"hour":13,"DCFC":0,"Work-L1":2.21,"Work-L2":1.5,"Public-L2":0.69,"Home-L2":0.4,"Home-L1":0.09},
{"panel":6,"hour":13.5,"DCFC":0,"Work-L1":2.43,"Work-L2":1.63,"Public-L2":0.71,"Home-L2":0.49,"Home-L1":0.1},
{"panel":6,"hour":14,"DCFC":0,"Work-L1":2.61,"Work-L2":1.75,"Public-L2":0.66,"Home-L2":0.58,"Home-L1":0.12},
{"panel":6,"hour":14.5,"DCFC":0,"Work-L1":2.7,"Work-L2":1.8,"Public-L2":0.55,"Home-L2":0.59,"Home-L1":0.15},
{"panel":6,"hour":15,"DCFC":0,"Work-L1":2.68,"Work-L2":1.77,"Public-L2":0,"Home-L2":0.75,"Home-L1":0.19},
{"panel":6,"hour":15.5,"DCFC":0,"Work-L1":2.52,"Work-L2":1.68,"Public-L2":0,"Home-L2":1.06,"Home-L1":0.25},
{"panel":6,"hour":16,"DCFC":0,"Work-L1":2.43,"Work-L2":1.55,"Public-L2":0,"Home-L2":1.37,"Home-L1":0.31},
{"panel":6,"hour":16.5,"DCFC":0,"Work-L1":2.12,"Work-L2":0,"Public-L2":0,"Home-L2":1.46,"Home-L1":0.34},
{"panel":6,"hour":17,"DCFC":0,"Work-L1":1.5,"Work-L2":0,"Public-L2":0,"Home-L2":1.73,"Home-L1":0.38},
{"panel":6,"hour":17.5,"DCFC":0,"Work-L1":0,"Work-L2":0,"Public-L2":0,"Home-L2":2.08,"Home-L1":0.45},
{"panel":6,"hour":18,"DCFC":0,"Work-L1":0,"Work-L2":0,"Public-L2":0,"Home-L2":2.26,"Home-L1":0.53},
{"panel":6,"hour":18.5,"DCFC":0,"Work-L1":0,"Work-L2":0,"Public-L2":0,"Home-L2":2.5,"Home-L1":0.62},
{"panel":6,"hour":19,"DCFC":0,"Work-L1":0,"Work-L2":0,"Public-L2":0,"Home-L2":2.5,"Home-L1":0.65},
{"panel":6,"hour":19.5,"DCFC":0,"Work-L1":0,"Work-L2":0,"Public-L2":0,"Home-L2":2.41,"Home-L1":0.62},
{"panel":6,"hour":20,"DCFC":0,"Work-L1":0,"Work-L2":0,"Public-L2":0,"Home-L2":2.35,"Home-L1":0.59},
{"panel":6,"hour":20.5,"DCFC":0,"Work-L1":0,"Work-L2":0,"Public-L2":0,"Home-L2":2.24,"Home-L1":0.58},
{"panel":6,"hour":21,"DCFC":0,"Work-L1":0,"Work-L2":0,"Public-L2":0,"Home-L2":2.19,"Home-L1":0.56},
{"panel":6,"hour":21.5,"DCFC":0,"Work-L1":0,"Work-L2":0,"Public-L2":0,"Home-L2":2.12,"Home-L1":0.53},
{"panel":6,"hour":22,"DCFC":0,"Work-L1":0,"Work-L2":0,"Public-L2":0,"Home-L2":1.95,"Home-L1":0.49},
{"panel":6,"hour":22.5,"DCFC":0,"Work-L1":0,"Work-L2":0,"Public-L2":0,"Home-L2":1.73,"Home-L1":0.45},
{"panel":6,"hour":23,"DCFC":0,"Work-L1":0,"Work-L2":0,"Public-L2":0,"Home-L2":1.5,"Home-L1":0.4},
{"panel":6,"hour":23.5,"DCFC":0,"Work-L1":0,"Work-L2":0,"Public-L2":0,"Home-L2":1.37,"Home-L1":0.35},
{"panel":6,"hour":23.75,"DCFC":0,"Work-L1":0,"Work-L2":0,"Public-L2":0,"Home-L2":1.3,"Home-L1":0.33}
]},
"data": {"name": "load"},
"columns": 2,
"spacing": {"row": 46, "column": 49},
"bounds": "flush",
"resolve": {"scale": {"x": "independent", "color": "independent"}},
"concat": [
{"title": {"text": ["\"Business as Usual\" Charging Behavior", "min delay @ work"]},
 "width": 571, "height": 150, "transform": [{"filter": "datum.panel == 1"}],
 "encoding": {"x": {"field": "hour", "type": "quantitative", "scale": {"domain": [0, 23.75], "nice": false, "zero": false}, "axis": {"values": [0, 5, 10, 15, 20], "labels": false, "title": "Hour of Day", "titlePadding": -1}}},
 "layer": [
  {"mark": {"type": "area", "clip": true}, "encoding": {"y": {"field": "DCFC", "type": "quantitative", "stack": null, "scale": {"domain": [0, 4], "nice": false}, "axis": {"tickCount": 4, "labelOverlap": false, "title": "Electrical Load (MW)", "titlePadding": 5}}, "color": {"datum": "DCFC", "type": "nominal", "scale": {"domain": ["DCFC", "Work-L1", "Work-L2", "Public-L2", "Home-L2", "Home-L1"], "range": ["#6495ed", "#ffff00", "#800080", "#008000", "#ff8c00", "#0000cd"]}, "legend": {"title": null}}}},
  {"mark": {"type": "area", "clip": true}, "encoding": {"y": {"field": "Work-L1", "type": "quantitative", "stack": null, "scale": {"domain": [0, 4], "nice": false}, "axis": {"tickCount": 4, "labelOverlap": false, "title": "Electrical Load (MW)", "titlePadding": 5}}, "color": {"datum": "Work-L1", "type": "nominal"}}},
  {"mark": {"type": "area", "clip": true}, "encoding": {"y": {"field": "Work-L2", "type": "quantitative", "stack": null, "scale": {"domain": [0, 4], "nice": false}, "axis": {"tickCount": 4, "labelOverlap": false, "title": "Electrical Load (MW)", "titlePadding": 5}}, "color": {"datum": "Work-L2", "type": "nominal"}}},
  {"mark": {"type": "area", "clip": true}, "encoding": {"y": {"field": "Public-L2", "type": "quantitative", "stack": null, "scale": {"domain": [0, 4], "nice": false}, "axis": {"tickCount": 4, "labelOverlap": false, "title": "Electrical Load (MW)", "titlePadding": 5}}, "color": {"datum": "Public-L2", "type": "nominal"}}},
  {"mark": {"type": "area", "clip": true}, "encoding": {"y": {"field": "Home-L2", "type": "quantitative", "stack": null, "scale": {"domain": [0, 4], "nice": false}, "axis": {"tickCount": 4, "labelOverlap": false, "title": "Electrical Load (MW)", "titlePadding": 5}}, "color": {"datum": "Home-L2", "type": "nominal"}}},
  {"mark": {"type": "area", "clip": true}, "encoding": {"y": {"field": "Home-L1", "type": "quantitative", "stack": null, "scale": {"domain": [0, 4], "nice": false}, "axis": {"tickCount": 4, "labelOverlap": false, "title": "Electrical Load (MW)", "titlePadding": 5}}, "color": {"datum": "Home-L1", "type": "nominal"}}}
 ]},
{"title": {"text": ["Free Workplace Charging at PSN", "min delay @ work"]},
 "width": 567, "height": 150, "transform": [{"filter": "datum.panel == 2"}],
 "encoding": {"x": {"field": "hour", "type": "quantitative", "scale": {"domain": [0, 23.58], "nice": false, "zero": false}, "axis": {"values": [0, 5, 10, 15, 20], "labels": false, "title": "Hour of Day", "titlePadding": -1}}},
 "layer": [
  {"mark": {"type": "area", "clip": true}, "encoding": {"y": {"field": "DCFC", "type": "quantitative", "stack": null, "scale": {"domain": [0, 4], "nice": false}, "axis": {"tickCount": 4, "labelOverlap": false, "title": "Electrical Load (MW)", "titlePadding": 5}}, "color": {"datum": "DCFC", "type": "nominal", "scale": {"domain": ["DCFC", "Work-L1", "Work-L2", "Public-L2", "Home-L2", "Home-L1"], "range": ["#6495ed", "#ffff00", "#800080", "#008000", "#ff8c00", "#0000cd"]}, "legend": {"title": null}}}},
  {"mark": {"type": "area", "clip": true}, "encoding": {"y": {"field": "Work-L1", "type": "quantitative", "stack": null, "scale": {"domain": [0, 4], "nice": false}, "axis": {"tickCount": 4, "labelOverlap": false, "title": "Electrical Load (MW)", "titlePadding": 5}}, "color": {"datum": "Work-L1", "type": "nominal"}}},
  {"mark": {"type": "area", "clip": true}, "encoding": {"y": {"field": "Work-L2", "type": "quantitative", "stack": null, "scale": {"domain": [0, 4], "nice": false}, "axis": {"tickCount": 4, "labelOverlap": false, "title": "Electrical Load (MW)", "titlePadding": 5}}, "color": {"datum": "Work-L2", "type": "nominal"}}},
  {"mark": {"type": "area", "clip": true}, "encoding": {"y": {"field": "Public-L2", "type": "quantitative", "stack": null, "scale": {"domain": [0, 4], "nice": false}, "axis": {"tickCount": 4, "labelOverlap": false, "title": "Electrical Load (MW)", "titlePadding": 5}}, "color": {"datum": "Public-L2", "type": "nominal"}}},
  {"mark": {"type": "area", "clip": true}, "encoding": {"y": {"field": "Home-L2", "type": "quantitative", "stack": null, "scale": {"domain": [0, 4], "nice": false}, "axis": {"tickCount": 4, "labelOverlap": false, "title": "Electrical Load (MW)", "titlePadding": 5}}, "color": {"datum": "Home-L2", "type": "nominal"}}},
  {"mark": {"type": "area", "clip": true}, "encoding": {"y": {"field": "Home-L1", "type": "quantitative", "stack": null, "scale": {"domain": [0, 4], "nice": false}, "axis": {"tickCount": 4, "labelOverlap": false, "title": "Electrical Load (MW)", "titlePadding": 5}}, "color": {"datum": "Home-L1", "type": "nominal"}}}
 ]},
{"title": {"text": ["Free Workplace Charging at PSN", "min delay @ work"]},
 "width": 571, "height": 150, "transform": [{"filter": "datum.panel == 3"}],
 "encoding": {"x": {"field": "hour", "type": "quantitative", "scale": {"domain": [0, 23.75], "nice": false, "zero": false}, "axis": {"values": [0, 5, 10, 15, 20], "labels": false, "title": "Hour of Day", "titlePadding": -1}}},
 "layer": [
  {"mark": {"type": "area", "clip": true}, "encoding": {"y": {"field": "DCFC", "type": "quantitative", "stack": null, "scale": {"domain": [0, 4], "nice": false}, "axis": {"tickCount": 4, "labelOverlap": false, "title": "Electrical Load (MW)", "titlePadding": 5}}, "color": {"datum": "DCFC", "type": "nominal", "scale": {"domain": ["DCFC", "Work-L1", "Work-L2", "Public-L2", "Home-L2", "Home-L1"], "range": ["#6495ed", "#ffff00", "#800080", "#008000", "#ff8c00", "#0000cd"]}, "legend": {"title": null}}}},
  {"mark": {"type": "area", "clip": true}, "encoding": {"y": {"field": "Work-L1", "type": "quantitative", "stack": null, "scale": {"domain": [0, 4], "nice": false}, "axis": {"tickCount": 4, "labelOverlap": false, "title": "Electrical Load (MW)", "titlePadding": 5}}, "color": {"datum": "Work-L1", "type": "nominal"}}},
  {"mark": {"type": "area", "clip": true}, "encoding": {"y": {"field": "Work-L2", "type": "quantitative", "stack": null, "scale": {"domain": [0, 4], "nice": false}, "axis": {"tickCount": 4, "labelOverlap": false, "title": "Electrical Load (MW)", "titlePadding": 5}}, "color": {"datum": "Work-L2", "type": "nominal"}}},
  {"mark": {"type": "area", "clip": true}, "encoding": {"y": {"field": "Public-L2", "type": "quantitative", "stack": null, "scale": {"domain": [0, 4], "nice": false}, "axis": {"tickCount": 4, "labelOverlap": false, "title": "Electrical Load (MW)", "titlePadding": 5}}, "color": {"datum": "Public-L2", "type": "nominal"}}},
  {"mark": {"type": "area", "clip": true}, "encoding": {"y": {"field": "Home-L2", "type": "quantitative", "stack": null, "scale": {"domain": [0, 4], "nice": false}, "axis": {"tickCount": 4, "labelOverlap": false, "title": "Electrical Load (MW)", "titlePadding": 5}}, "color": {"datum": "Home-L2", "type": "nominal"}}},
  {"mark": {"type": "area", "clip": true}, "encoding": {"y": {"field": "Home-L1", "type": "quantitative", "stack": null, "scale": {"domain": [0, 4], "nice": false}, "axis": {"tickCount": 4, "labelOverlap": false, "title": "Electrical Load (MW)", "titlePadding": 5}}, "color": {"datum": "Home-L1", "type": "nominal"}}}
 ]},
{"title": {"text": ["Free Workplace Charging at PSN", "min power @ work"]},
 "width": 567, "height": 150, "transform": [{"filter": "datum.panel == 4"}],
 "encoding": {"x": {"field": "hour", "type": "quantitative", "scale": {"domain": [0, 23.58], "nice": false, "zero": false}, "axis": {"values": [0, 5, 10, 15, 20], "labels": false, "title": "Hour of Day", "titlePadding": -1}}},
 "layer": [
  {"mark": {"type": "area", "clip": true}, "encoding": {"y": {"field": "DCFC", "type": "quantitative", "stack": null, "scale": {"domain": [0, 4], "nice": false}, "axis": {"tickCount": 4, "labelOverlap": false, "title": "Electrical Load (MW)", "titlePadding": 5}}, "color": {"datum": "DCFC", "type": "nominal", "scale": {"domain": ["DCFC", "Work-L1", "Work-L2", "Public-L2", "Home-L2", "Home-L1"], "range": ["#6495ed", "#ffff00", "#800080", "#008000", "#ff8c00", "#0000cd"]}, "legend": {"title": null}}}},
  {"mark": {"type": "area", "clip": true}, "encoding": {"y": {"field": "Work-L1", "type": "quantitative", "stack": null, "scale": {"domain": [0, 4], "nice": false}, "axis": {"tickCount": 4, "labelOverlap": false, "title": "Electrical Load (MW)", "titlePadding": 5}}, "color": {"datum": "Work-L1", "type": "nominal"}}},
  {"mark": {"type": "area", "clip": true}, "encoding": {"y": {"field": "Work-L2", "type": "quantitative", "stack": null, "scale": {"domain": [0, 4], "nice": false}, "axis": {"tickCount": 4, "labelOverlap": false, "title": "Electrical Load (MW)", "titlePadding": 5}}, "color": {"datum": "Work-L2", "type": "nominal"}}},
  {"mark": {"type": "area", "clip": true}, "encoding": {"y": {"field": "Public-L2", "type": "quantitative", "stack": null, "scale": {"domain": [0, 4], "nice": false}, "axis": {"tickCount": 4, "labelOverlap": false, "title": "Electrical Load (MW)", "titlePadding": 5}}, "color": {"datum": "Public-L2", "type": "nominal"}}},
  {"mark": {"type": "area", "clip": true}, "encoding": {"y": {"field": "Home-L2", "type": "quantitative", "stack": null, "scale": {"domain": [0, 4], "nice": false}, "axis": {"tickCount": 4, "labelOverlap": false, "title": "Electrical Load (MW)", "titlePadding": 5}}, "color": {"datum": "Home-L2", "type": "nominal"}}},
  {"mark": {"type": "area", "clip": true}, "encoding": {"y": {"field": "Home-L1", "type": "quantitative", "stack": null, "scale": {"domain": [0, 4], "nice": false}, "axis": {"tickCount": 4, "labelOverlap": false, "title": "Electrical Load (MW)", "titlePadding": 5}}, "color": {"datum": "Home-L1", "type": "nominal"}}}
 ]},
{"title": {"text": ["Free Workplace Charging Across Denver Metro", "min delay @ work"]},
 "width": 571, "height": 150, "transform": [{"filter": "datum.panel == 5"}],
 "encoding": {"x": {"field": "hour", "type": "quantitative", "scale": {"domain": [0, 23.75], "nice": false, "zero": false}, "axis": {"values": [0, 5, 10, 15, 20], "labelPadding": 3, "title": "Hour of Day", "titlePadding": 1}}},
 "layer": [
  {"mark": {"type": "area", "clip": true}, "encoding": {"y": {"field": "DCFC", "type": "quantitative", "stack": null, "scale": {"domain": [0, 4], "nice": false}, "axis": {"tickCount": 4, "labelOverlap": false, "title": "Electrical Load (MW)", "titlePadding": 5}}, "color": {"datum": "DCFC", "type": "nominal", "scale": {"domain": ["DCFC", "Work-L1", "Work-L2", "Public-L2", "Home-L2", "Home-L1"], "range": ["#6495ed", "#ffff00", "#800080", "#008000", "#ff8c00", "#0000cd"]}, "legend": {"title": null}}}},
  {"mark": {"type": "area", "clip": true}, "encoding": {"y": {"field": "Work-L1", "type": "quantitative", "stack": null, "scale": {"domain": [0, 4], "nice": false}, "axis": {"tickCount": 4, "labelOverlap": false, "title": "Electrical Load (MW)", "titlePadding": 5}}, "color": {"datum": "Work-L1", "type": "nominal"}}},
  {"mark": {"type": "area", "clip": true}, "encoding": {"y": {"field": "Work-L2", "type": "quantitative", "stack": null, "scale": {"domain": [0, 4], "nice": false}, "axis": {"tickCount": 4, "labelOverlap": false, "title": "Electrical Load (MW)", "titlePadding": 5}}, "color": {"datum": "Work-L2", "type": "nominal"}}},
  {"mark": {"type": "area", "clip": true}, "encoding": {"y": {"field": "Public-L2", "type": "quantitative", "stack": null, "scale": {"domain": [0, 4], "nice": false}, "axis": {"tickCount": 4, "labelOverlap": false, "title": "Electrical Load (MW)", "titlePadding": 5}}, "color": {"datum": "Public-L2", "type": "nominal"}}},
  {"mark": {"type": "area", "clip": true}, "encoding": {"y": {"field": "Home-L2", "type": "quantitative", "stack": null, "scale": {"domain": [0, 4], "nice": false}, "axis": {"tickCount": 4, "labelOverlap": false, "title": "Electrical Load (MW)", "titlePadding": 5}}, "color": {"datum": "Home-L2", "type": "nominal"}}},
  {"mark": {"type": "area", "clip": true}, "encoding": {"y": {"field": "Home-L1", "type": "quantitative", "stack": null, "scale": {"domain": [0, 4], "nice": false}, "axis": {"tickCount": 4, "labelOverlap": false, "title": "Electrical Load (MW)", "titlePadding": 5}}, "color": {"datum": "Home-L1", "type": "nominal"}}}
 ]},
{"title": {"text": ["Free Workplace Charging at PSN", "max delay @ work"]},
 "width": 567, "height": 150, "transform": [{"filter": "datum.panel == 6"}],
 "encoding": {"x": {"field": "hour", "type": "quantitative", "scale": {"domain": [0, 23.58], "nice": false, "zero": false}, "axis": {"values": [0, 5, 10, 15, 20], "labelPadding": 3, "title": "Hour of Day", "titlePadding": 1}}},
 "layer": [
  {"mark": {"type": "area", "clip": true}, "encoding": {"y": {"field": "DCFC", "type": "quantitative", "stack": null, "scale": {"domain": [0, 4], "nice": false}, "axis": {"tickCount": 4, "labelOverlap": false, "title": "Electrical Load (MW)", "titlePadding": 5}}, "color": {"datum": "DCFC", "type": "nominal", "scale": {"domain": ["DCFC", "Work-L1", "Work-L2", "Public-L2", "Home-L2", "Home-L1"], "range": ["#6495ed", "#ffff00", "#800080", "#008000", "#ff8c00", "#0000cd"]}, "legend": {"title": null}}}},
  {"mark": {"type": "area", "clip": true}, "encoding": {"y": {"field": "Work-L1", "type": "quantitative", "stack": null, "scale": {"domain": [0, 4], "nice": false}, "axis": {"tickCount": 4, "labelOverlap": false, "title": "Electrical Load (MW)", "titlePadding": 5}}, "color": {"datum": "Work-L1", "type": "nominal"}}},
  {"mark": {"type": "area", "clip": true}, "encoding": {"y": {"field": "Work-L2", "type": "quantitative", "stack": null, "scale": {"domain": [0, 4], "nice": false}, "axis": {"tickCount": 4, "labelOverlap": false, "title": "Electrical Load (MW)", "titlePadding": 5}}, "color": {"datum": "Work-L2", "type": "nominal"}}},
  {"mark": {"type": "area", "clip": true}, "encoding": {"y": {"field": "Public-L2", "type": "quantitative", "stack": null, "scale": {"domain": [0, 4], "nice": false}, "axis": {"tickCount": 4, "labelOverlap": false, "title": "Electrical Load (MW)", "titlePadding": 5}}, "color": {"datum": "Public-L2", "type": "nominal"}}},
  {"mark": {"type": "area", "clip": true}, "encoding": {"y": {"field": "Home-L2", "type": "quantitative", "stack": null, "scale": {"domain": [0, 4], "nice": false}, "axis": {"tickCount": 4, "labelOverlap": false, "title": "Electrical Load (MW)", "titlePadding": 5}}, "color": {"datum": "Home-L2", "type": "nominal"}}},
  {"mark": {"type": "area", "clip": true}, "encoding": {"y": {"field": "Home-L1", "type": "quantitative", "stack": null, "scale": {"domain": [0, 4], "nice": false}, "axis": {"tickCount": 4, "labelOverlap": false, "title": "Electrical Load (MW)", "titlePadding": 5}}, "color": {"datum": "Home-L1", "type": "nominal"}}}
 ]}
]
}
